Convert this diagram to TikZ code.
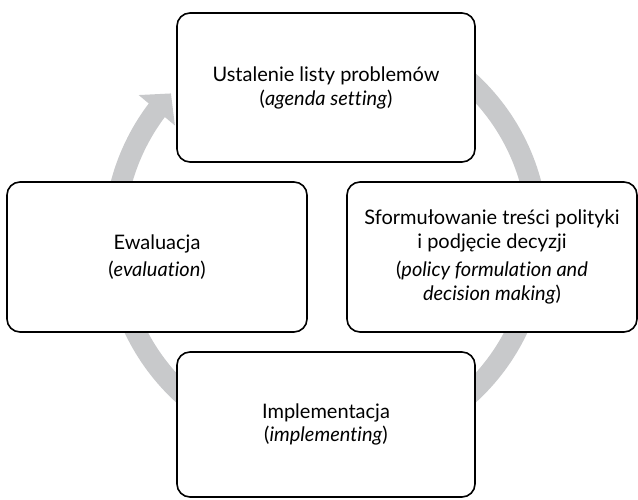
\documentclass[tikz,border=0pt]{standalone}
\usepackage{fontspec}
\setmainfont{Lato}[Ligatures=NoCommon]
\usetikzlibrary{arrows.meta,bending}
\definecolor{cyclegray}{RGB}{200,201,203}

\begin{document}
\begin{tikzpicture}[x=1pt,y=1pt]

\tikzstyle{stage} = [draw=black, line width=1.6, rounded corners=13,
    fill=white, align=center, inner sep=0,
    font=\fontsize{20}{24}\selectfont]
\tikzstyle{cycle} = [draw=cyclegray, line width=21,
    -{Triangle[length=22pt,width=46pt]}]

\useasboundingbox (0,0) rectangle (638,499);

% =========================
% grey cycle in the back
% =========================
\coordinate (centre) at (326,261);
\draw[cycle] (centre) ++(90:212) arc[start angle=90, end angle=-223, radius=212];

% =========================
% four stages
% =========================
\node[stage, minimum width=298, minimum height=149] (agenda) at (326,411.5)
    {Ustalenie listy problemów\\(\textit{agenda setting})};

\node[stage, minimum width=290, minimum height=150] (policy) at (492,242)
    {Sformułowanie treści polityki\\i podjęcie decyzji\\[4pt]
     (\textit{policy formulation and}\\\textit{decision making})};

\node[stage, minimum width=298, minimum height=145] (implement) at (326,74.5)
    {Implementacja\\[-1pt](\textit{implementing})};

\node[stage, minimum width=300, minimum height=150] (evaluation) at (157,242)
    {Ewaluacja\\[3pt](\textit{evaluation})};

\end{tikzpicture}
\end{document}
